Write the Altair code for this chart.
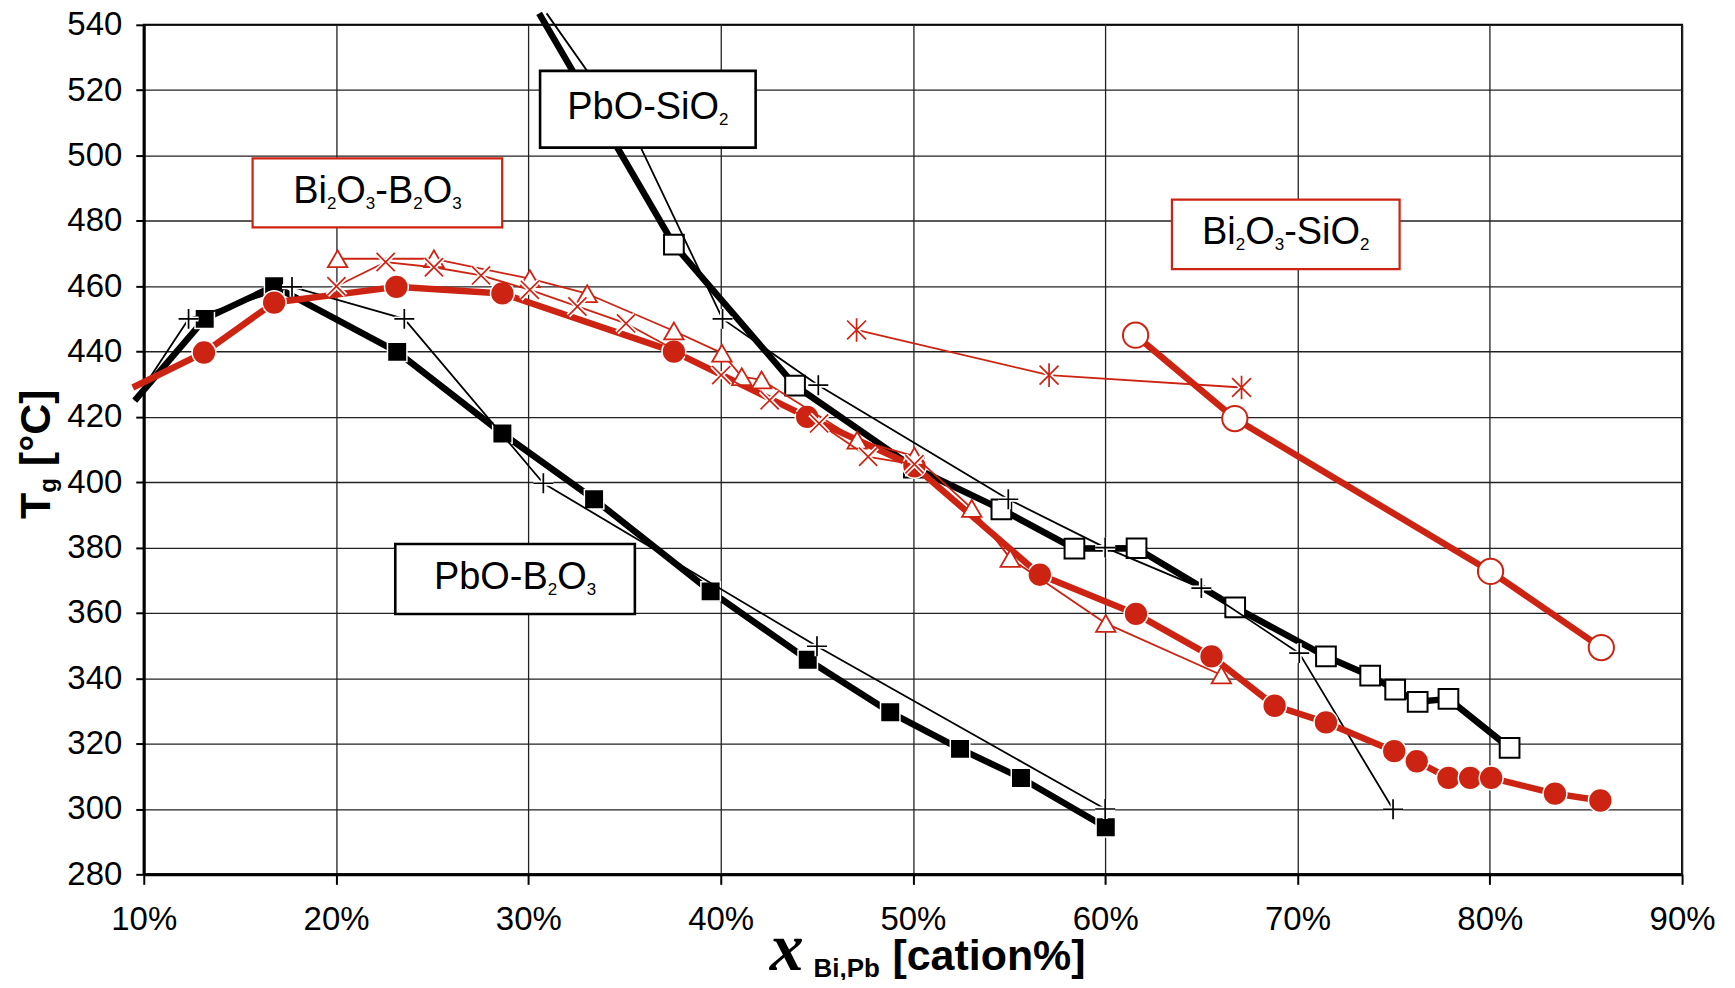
import altair as alt
import pandas as pd

# ---------------- data (x = cation fraction, y = Tg in °C) ----------------
# PbO-B2O3, filled squares (thick black line)
PBB_SQ_X = [0.1317, 0.1678, 0.2318, 0.2865, 0.3342, 0.3948, 0.4453, 0.4882, 0.5245, 0.5562, 0.6003]
PBB_SQ_Y = [450, 460, 439.9, 414.9, 394.8, 366.6, 345.7, 329.6, 318.4, 309.5, 294.4]
PBB_SQ_LINE_X = [0.0953]          # line continues past the left axis
PBB_SQ_LINE_Y = [425]

# PbO-B2O3, plus signs (thin black line)
PBB_PL_X = [0.1233, 0.1771, 0.2355, 0.3078, 0.4501, 0.6000]
PBB_PL_Y = [450, 459.8, 450, 399.7, 349.8, 300]
PBB_PL_LINE_X = [0.0953]
PBB_PL_LINE_Y = [425]

# PbO-SiO2, open squares (thick black line)
PBS_SQ_X = [0.3757, 0.4387, 0.5005, 0.5460, 0.5840, 0.6163, 0.6676, 0.7148, 0.7378, 0.7508, 0.7625, 0.7785, 0.8103]
PBS_SQ_Y = [472.7, 429.6, 404.5, 391.7, 379.7, 379.8, 361.7, 346.7, 340.8, 336.5, 332.8, 333.7, 318.7]
PBS_SQ_LINE_X = [0.3056]          # line leaves through the top of the plot
PBS_SQ_LINE_Y = [543.5]

# PbO-SiO2, plus signs (thin black line)
PBS_PL_X = [0.4010, 0.4508, 0.5496, 0.6000, 0.6500, 0.7009, 0.7497]
PBS_PL_Y = [450, 429.7, 394.8, 380, 367.6, 347.7, 299.9]
PBS_PL_LINE_X = [0.3095, 0.3580]  # top exit and bend hidden behind the label
PBS_PL_LINE_Y = [543.5, 503]

# Bi2O3-B2O3, filled circles (thick red line)
BIB_CI_X = [0.1313, 0.1678, 0.2314, 0.2865, 0.3757, 0.4450, 0.5008, 0.5660, 0.6160, 0.6553, 0.6881,
            0.7148, 0.7503, 0.7620, 0.7785, 0.7898, 0.8007, 0.8339, 0.8575]
BIB_CI_Y = [439.7, 455, 459.8, 457.8, 440, 420, 404.9, 371.7, 359.7, 346.7, 331.6,
            326.5, 317.7, 314.6, 309.5, 309.5, 309.5, 304.7, 302.6]
BIB_CI_LINE_X = [0.0943]
BIB_CI_LINE_Y = [429]

# Bi2O3-B2O3, open triangles (thin red line)
BIB_TR_X = [0.2008, 0.2509, 0.3008, 0.3306, 0.3757, 0.4007, 0.4110, 0.4213, 0.4710, 0.5008, 0.5306,
            0.5506, 0.6003, 0.6604]
BIB_TR_Y = [468.4, 468.4, 462.3, 457.7, 446.3, 439.5, 432.3, 431.3, 412.9, 408, 392,
            376.7, 356.8, 341]

# Bi2O3-B2O3, crosses (thin red line)
BIB_XX_X = [0.2002, 0.2258, 0.2509, 0.2754, 0.3008, 0.3255, 0.3508, 0.4003, 0.4255, 0.4512, 0.4767, 0.5008]
BIB_XX_Y = [460, 467.4, 465.8, 463.3, 458.9, 453.8, 448.6, 432.8, 425.1, 418, 407.8, 405.5]

# Bi2O3-SiO2, asterisks (thin red line)
BIS_AS_X = [0.4707, 0.5708, 0.6709]
BIS_AS_Y = [446.6, 432.8, 429.0]

# Bi2O3-SiO2, open circles (thick red line)
BIS_CI_X = [0.6158, 0.6674, 0.8004, 0.8580]
BIS_CI_Y = [445, 419.5, 372.7, 349.4]

# axis ticks
X_TICKS = [0.1, 0.2, 0.3, 0.4, 0.5, 0.6, 0.7, 0.8, 0.9]
Y_TICKS = list(range(280, 541, 20))

# label boxes (data coordinates of the box corners) and their text pieces
LABELS = [
    # (x1, x2, y_top, y_bottom, border colour, [(text, is_subscript), ...])
    (0.3061, 0.4182, 525.9, 502.4, "black", [("PbO-SiO", 0), ("2", 1)]),
    (0.1566, 0.2864, 499.1, 478.0, "red", [("Bi", 0), ("2", 1), ("O", 0), ("3", 1), ("-B", 0), ("2", 1), ("O", 0), ("3", 1)]),
    (0.6347, 0.7531, 486.5, 465.2, "red", [("Bi", 0), ("2", 1), ("O", 0), ("3", 1), ("-SiO", 0), ("2", 1)]),
    (0.2308, 0.3554, 381.1, 359.7, "black", [("PbO-B", 0), ("2", 1), ("O", 0), ("3", 1)]),
]

# ---------------- styling ----------------
RED = "#CD2313"
BLACK = "#000000"
FONT = "Liberation Sans"
LAB_SIZE = 38
SUB_SIZE = 17
THICK = 6.5
THIN = 1.8
# Helvetica / Arial advance widths (per 1000 em) for the label glyphs
WIDTHS = {"B": 667, "i": 222, "O": 778, "-": 333, "P": 667, "b": 556, "S": 667, "2": 556, "3": 556}

XAXIS = alt.Axis(values=X_TICKS, format=".0%", title=None, grid=True, gridColor="#222222", gridWidth=1.3,
                 domainColor=BLACK, domainWidth=3, tickColor=BLACK, tickWidth=2, tickSize=10,
                 labelFont=FONT, labelFontSize=33, labelColor=BLACK, labelPadding=19,
                 labelFlush=False, labelOverlap=False)
YAXIS = alt.Axis(values=Y_TICKS, title=None, grid=True, gridColor="#222222", gridWidth=1.3,
                 domainColor=BLACK, domainWidth=3, tickColor=BLACK, tickWidth=2, tickSize=8,
                 labelFont=FONT, labelFontSize=33, labelColor=BLACK, labelPadding=14,
                 labelFlush=False, labelOverlap=False)
XS = alt.Scale(domain=[0.1, 0.9], nice=False, zero=False)
YS = alt.Scale(domain=[280, 540], nice=False, zero=False)


def enc(xf="x", yf="y"):
    return dict(x=alt.X(f"{xf}:Q", scale=XS, axis=XAXIS), y=alt.Y(f"{yf}:Q", scale=YS, axis=YAXIS))


def df(xs, ys):
    return pd.DataFrame({"x": xs, "y": ys})


PLUS = "M-1,0L1,0M0,-1L0,1"
XMARK = "M-1,-1L1,1M-1,1L1,-1"
STAR = "M-1,-1L1,1M-1,1L1,-1M0,-1.25L0,1.25"

layers = []


def add_series(xs, ys, lx, ly, color, lw, marker):
    pts = df(xs, ys)
    line_df = df(list(lx) + list(xs), list(ly) + list(ys))
    layers.append(alt.Chart(line_df).mark_line(color=color, strokeWidth=lw, strokeJoin="round").encode(**enc()))
    kind = marker["kind"]
    if kind == "path":
        layers.append(alt.Chart(pts).mark_point(shape=marker["shape"], filled=False, color="white", stroke="white",
                                                strokeWidth=5, size=marker["size"], opacity=1).encode(**enc()))
        layers.append(alt.Chart(pts).mark_point(shape=marker["shape"], filled=False, color=color, stroke=color,
                                                strokeWidth=1.7, size=marker["size"], opacity=1).encode(**enc()))
    else:
        layers.append(alt.Chart(pts).mark_point(shape=marker["shape"], filled=True, fill=marker["fill"],
                                                stroke=marker["stroke"], strokeWidth=marker["sw"],
                                                size=marker["size"], opacity=1).encode(**enc()))


add_series(PBB_SQ_X, PBB_SQ_Y, PBB_SQ_LINE_X, PBB_SQ_LINE_Y, BLACK, THICK,
           dict(kind="sym", shape="square", fill=BLACK, stroke="white", sw=1.5, size=380))
add_series(PBB_PL_X, PBB_PL_Y, PBB_PL_LINE_X, PBB_PL_LINE_Y, BLACK, THIN,
           dict(kind="path", shape=PLUS, size=400))
add_series(PBS_SQ_X, PBS_SQ_Y, PBS_SQ_LINE_X, PBS_SQ_LINE_Y, BLACK, THICK,
           dict(kind="sym", shape="square", fill="white", stroke=BLACK, sw=2, size=390))
add_series(PBS_PL_X, PBS_PL_Y, PBS_PL_LINE_X, PBS_PL_LINE_Y, BLACK, THIN,
           dict(kind="path", shape=PLUS, size=400))
add_series(BIB_CI_X, BIB_CI_Y, BIB_CI_LINE_X, BIB_CI_LINE_Y, RED, THICK,
           dict(kind="sym", shape="circle", fill=RED, stroke="white", sw=1.5, size=570))
add_series(BIB_TR_X, BIB_TR_Y, [], [], RED, THIN,
           dict(kind="sym", shape="triangle-up", fill="white", stroke=RED, sw=1.8, size=380))
add_series(BIB_XX_X, BIB_XX_Y, [], [], RED, THIN,
           dict(kind="path", shape=XMARK, size=330))
add_series(BIS_AS_X, BIS_AS_Y, [], [], RED, THIN,
           dict(kind="path", shape=STAR, size=360))
add_series(BIS_CI_X, BIS_CI_Y, [], [], RED, THICK,
           dict(kind="sym", shape="circle", fill="white", stroke=RED, sw=2, size=640))

# ---------------- label boxes ----------------
for x1, x2, yt, yb, col, segs in LABELS:
    box = pd.DataFrame({"x1": [x1], "x2": [x2], "y1": [yt], "y2": [yb]})
    layers.append(alt.Chart(box).mark_rect(fill="white", stroke=RED if col == "red" else BLACK,
                                           strokeWidth=2.2 if col == "red" else 2.6).encode(
        x=alt.X("x1:Q", scale=XS, axis=XAXIS), x2="x2:Q",
        y=alt.Y("y1:Q", scale=YS, axis=YAXIS), y2="y2:Q"))
    widths = [sum(WIDTHS[c] for c in t) / 1000 * (SUB_SIZE if s else LAB_SIZE) for t, s in segs]
    pos = -sum(widths) / 2
    cx, cy = (x1 + x2) / 2, (yt + yb) / 2
    for (t, s), w in zip(segs, widths):
        tdf = pd.DataFrame({"x": [cx], "y": [cy], "t": [t]})
        layers.append(alt.Chart(tdf).mark_text(align="left", baseline="alphabetic", dx=pos,
                                               dy=10 + (6 if s else 0), font=FONT,
                                               fontSize=SUB_SIZE if s else LAB_SIZE, color=BLACK).encode(
            text="t:N", **enc()))
        pos += w


# ---------------- axis titles (rich text) ----------------
def title_piece(text, x, y, size, font=FONT, style="normal", angle=0, dx=0, dy=0):
    tdf = pd.DataFrame({"t": [text]})
    return alt.Chart(tdf).mark_text(align="left", baseline="alphabetic", font=font, fontSize=size,
                                    fontWeight="bold", fontStyle=style, angle=angle, dx=dx, dy=dy,
                                    color=BLACK).encode(text="t:N", x=alt.value(x), y=alt.value(y))


YT_X, YT_Y = -94, 495
layers.append(title_piece("T", YT_X, YT_Y, 43, angle=270))
layers.append(title_piece("g", YT_X, YT_Y, 24, angle=270, dx=0.611 * 43, dy=6))
layers.append(title_piece("[°C]", YT_X, YT_Y, 43, angle=270, dx=0.611 * 43 + 0.611 * 24 + 0.278 * 43))

layers.append(title_piece("x", 627, 947, 68, font="Liberation Serif", style="italic"))
layers.append(title_piece("Bi,Pb", 671, 954, 26))
layers.append(title_piece("[cation%]", 750, 947, 43))

chart = alt.layer(*layers).properties(
    width=1541, height=851,
    padding={"left": 136, "top": 16, "right": 45, "bottom": 105},
    autosize=alt.AutoSizeParams(type="none"),
    background="white",
).configure_view(stroke=BLACK, strokeWidth=2)

chart.save("out.html", embed_options={"renderer": "svg", "actions": False})
